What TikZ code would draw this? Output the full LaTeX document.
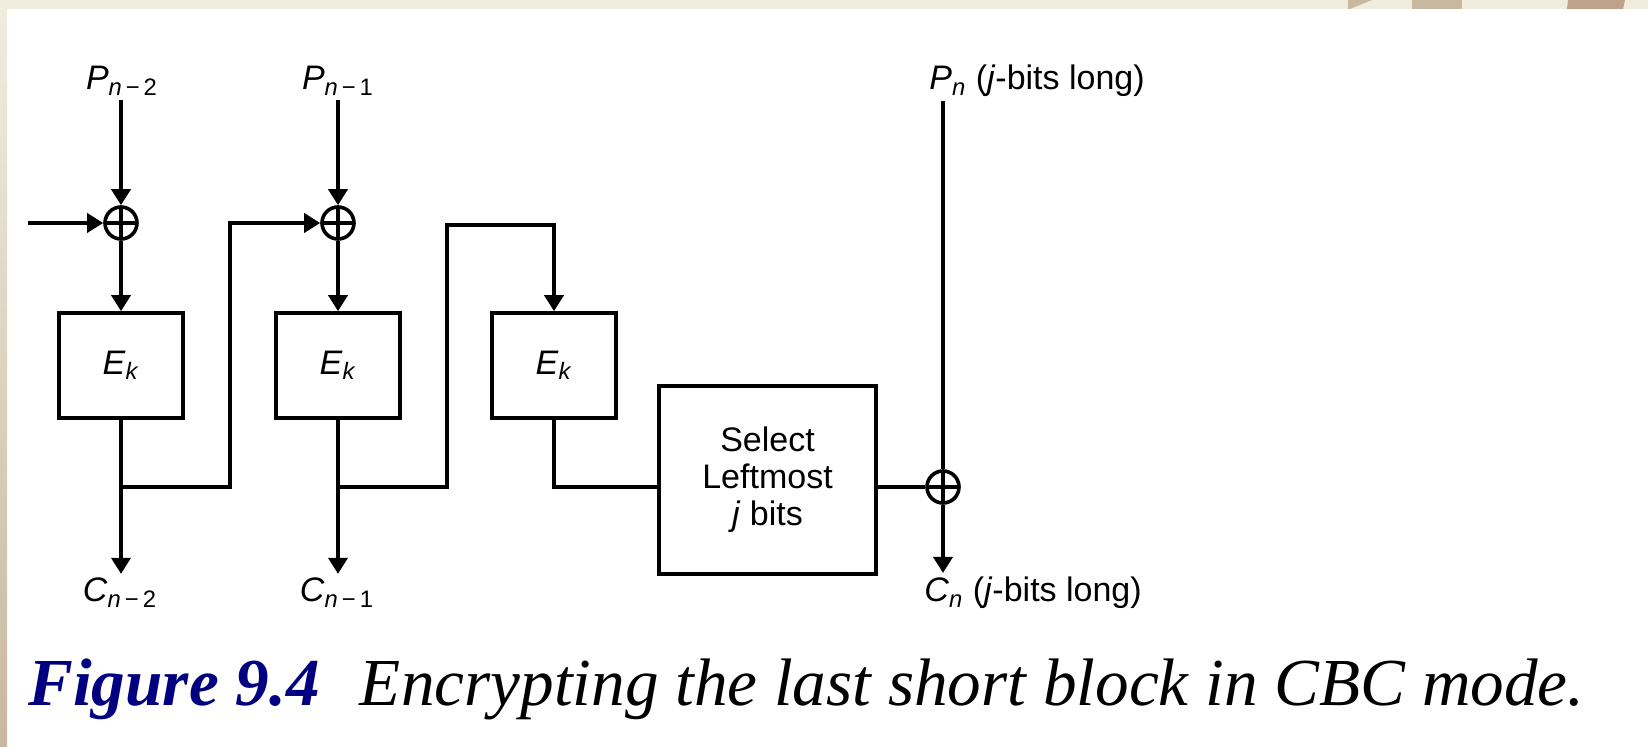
\documentclass[tikz,border=0pt]{standalone}
\usepackage{fontspec}
\setmainfont{Liberation Serif}
\setsansfont{Liberation Sans}
\usetikzlibrary{arrows.meta}
\definecolor{slidebeige}{RGB}{240,237,222}
\definecolor{slidetan}{RGB}{200,184,160}
\definecolor{slidebrown}{RGB}{192,162,138}
\definecolor{capblue}{RGB}{0,0,128}

\begin{document}
\begin{tikzpicture}[x=0.5pt,y=-0.5pt,every node/.style={font=\sffamily\fontsize{17}{18.5}\selectfont},
    wire/.style={line width=1.8pt},
    arr/.style={wire,-{Triangle[width=9.5pt,length=8pt]}},
    encbox/.style={draw,line width=1.8pt,minimum width=62pt,minimum height=52.5pt,inner sep=0pt},
    xorsym/.style={circle,draw,line width=1.8pt,minimum size=16pt,inner sep=0pt,
        path picture={\draw[line width=1.8pt] (path picture bounding box.north) -- (path picture bounding box.south)
            (path picture bounding box.west) -- (path picture bounding box.east);}},
    lbl/.style={inner sep=2pt}]
                % slide background
                \useasboundingbox (0,0) rectangle (1648,747);
                \fill[white] (0,0) rectangle (1648,747);
                \shade[top color=slidebeige,bottom color=slidetan] (0,0) rectangle (7,747);
                \fill[slidebeige] (0,0) rectangle (1648,9);
                \fill[slidetan] (1348,0) -- (1372,0) -- (1350,9) -- (1348,9) -- cycle;
                \fill[slidetan] (1412,0) rectangle (1462,9);
                \fill[slidebrown] (1567,9) -- (1568,0) -- (1625,0) -- (1623,9) -- cycle;

                % labels
                \node[lbl,anchor=base] (pa) at (122,90) {\textit{P}\textsubscript{\textit{n}\,−\,2}};
                \node[lbl,anchor=base] (pb) at (338,90) {\textit{P}\textsubscript{\textit{n}\,−\,1}};
                \node[lbl,anchor=base west] (pn) at (925,90) {\textit{P}\textsubscript{\textit{n}} (\textit{j}-bits long)};
                \node[lbl,anchor=base] (ca) at (120,602) {\textit{C}\textsubscript{\textit{n}\,−\,2}};
                \node[lbl,anchor=base] (cb) at (337,602) {\textit{C}\textsubscript{\textit{n}\,−\,1}};
                \node[lbl,anchor=base west] (cn) at (920,602) {\textit{C}\textsubscript{\textit{n}} (\textit{j}-bits long)};

                % xors and boxes
                \node[xorsym] (x1) at (121,223) {};
                \node[xorsym] (x2) at (338,223) {};
                \node[xorsym] (x3) at (943,487) {};
                \node[encbox] (e1) at (121,365.5) {\textit{E}\textsubscript{\textit{k}}};
                \node[encbox] (e2) at (338,365.5) {\textit{E}\textsubscript{\textit{k}}};
                \node[encbox] (e3) at (554,365.5) {\textit{E}\textsubscript{\textit{k}}};
                \node[encbox,minimum width=108.5pt,minimum height=94pt,align=center] (sel) at (767.5,480)
                    {Select\\Leftmost\\\textit{j} bits};

                \coordinate (in1) at (28,223);
                \coordinate (j1) at (121,487);
                \coordinate (k1) at (230,487);
                \coordinate (j2) at (338,487);
                \coordinate (k2) at (447,487);
                \coordinate (t3) at (e3.north |- 0,225);

                % first block
                \draw[arr] (x1 |- pa.south) -- (x1.north);
                \draw[arr] (in1) -- (x1.west);
                \draw[arr] (x1.south) -- (e1.north);
                \draw[arr] (e1.south) -- (e1.south |- ca.north);
                \draw[arr] (j1) -- (k1) |- (x2.west);

                % second block
                \draw[arr] (x2 |- pb.south) -- (x2.north);
                \draw[arr] (x2.south) -- (e2.north);
                \draw[arr] (e2.south) -- (e2.south |- cb.north);
                \draw[arr] (j2) -- (k2) |- (t3) -- (e3.north);

                % last short block
                \draw[wire] (e3.south) |- (sel.west |- x3);
                \draw[wire] (sel.east |- x3) -- (x3.west);
                \draw[wire] (x3 |- pn.south) -- (x3.north);
                \draw[arr] (x3.south) -- (x3 |- cn.north);

                % caption
                \node[anchor=base west,inner sep=0pt,font=\rmfamily\itshape\fontsize{33.6}{40}\selectfont] (cap) at (28,705)
                    {{\color{capblue}\bfseries Figure 9.4}\hspace{0.6em}Encrypting the last short block in CBC mode.};
            \end{tikzpicture}
\end{document}
